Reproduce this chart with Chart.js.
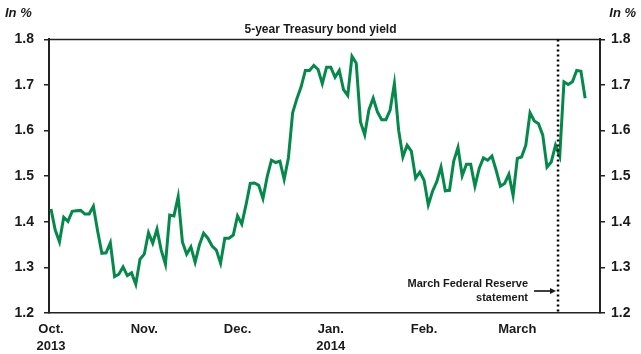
<!DOCTYPE html>
<html>
<head>
<meta charset="utf-8">
<title>5-year Treasury bond yield</title>
<script src="https://cdn.jsdelivr.net/npm/chart.js@4.4.1/dist/chart.umd.min.js"></script>
<style>
    html, body { margin: 0; padding: 0; background: #fff; }
    #chartWrap { width: 641px; height: 354px; }
</style>
</head>
<body>
<div id="chartWrap"><canvas id="yieldChart" width="641" height="354"></canvas></div>
<script>
// Daily 5-year Treasury yield, Oct 2013 - Mar 2014 (in %), one value per business day
const yields = [
    1.428, 1.382, 1.356, 1.410, 1.401, 1.423, 1.424, 1.425, 1.417, 1.417,
    1.434, 1.380, 1.331, 1.332, 1.354, 1.280, 1.285, 1.301, 1.282, 1.288,
    1.263, 1.318, 1.329, 1.376, 1.353, 1.384, 1.338, 1.307, 1.415, 1.413,
    1.455, 1.356, 1.329, 1.345,
    1.311, 1.349, 1.375, 1.364, 1.347, 1.338, 1.309, 1.364, 1.364, 1.371,
    1.413, 1.395, 1.437, 1.484, 1.485, 1.480, 1.451, 1.499, 1.535, 1.530,
    1.533, 1.493, 1.540, 1.639, 1.670, 1.696, 1.732, 1.732, 1.743, 1.734,
    1.703, 1.739, 1.739,
    1.717, 1.732, 1.690, 1.677, 1.763, 1.748, 1.619, 1.591, 1.646, 1.671,
    1.641, 1.624, 1.624, 1.645, 1.703, 1.601, 1.542, 1.568, 1.555, 1.496,
    1.509, 1.491, 1.437, 1.467, 1.488, 1.520, 1.468, 1.469, 1.533, 1.563,
    1.501, 1.526, 1.526,
    1.478, 1.517, 1.540, 1.535, 1.544, 1.513, 1.478, 1.484, 1.504, 1.458,
    1.539, 1.542, 1.568, 1.639, 1.621, 1.615, 1.590, 1.520, 1.531, 1.568,
    1.544, 1.707, 1.701, 1.707, 1.732, 1.730, 1.671
];

// First business day of each month (index into yields) and its label
const monthStarts = [0, 22, 44, 66, 88, 110];
const monthLabels = [['Oct.', '2013'], ['Nov.'], ['Dec.'], ['Jan.', '2014'], ['Feb.'], ['March']];

// Y axis range / ticks (in %)
const yMin = 1.2;
const yMax = 1.8;
const yStep = 0.1;

// March FOMC statement (between business days)
const fedStatementIndex = 119.6;
const fedStatementText = ['March Federal Reserve', 'statement'];

const FONT = "'Liberation Sans', Arial, Helvetica, sans-serif";
const TEXT = '#1a1a1a';
const LINE_GREEN = '#05894b';

// Extra drawing: top frame, "In %" units, dotted event line + note
const framePlugin = {
    id: 'frame',
    afterDraw(chart) {
        const { ctx, chartArea: area, scales } = chart;
        ctx.save();

        // top edge of the frame
        ctx.strokeStyle = '#222';
        ctx.lineWidth = 1.5;
        ctx.beginPath();
        ctx.moveTo(area.left, area.top);
        ctx.lineTo(area.right, area.top);
        ctx.stroke();

        // units
        ctx.fillStyle = TEXT;
        ctx.font = 'italic bold 13px ' + FONT;
        ctx.textBaseline = 'middle';
        ctx.textAlign = 'left';
        ctx.fillText('In %', 5, 13);
        ctx.textAlign = 'right';
        ctx.fillText('In %', 636, 13);

        // dotted line for the Fed statement
        const ex = scales.x.getPixelForValue(fedStatementIndex);
        ctx.strokeStyle = '#000';
        ctx.lineWidth = 2.5;
        ctx.setLineDash([2, 3]);
        ctx.beginPath();
        ctx.moveTo(ex, area.top);
        ctx.lineTo(ex, area.bottom);
        ctx.stroke();
        ctx.setLineDash([]);

        // note + arrow
        ctx.font = 'bold 11px ' + FONT;
        ctx.textAlign = 'right';
        ctx.fillText(fedStatementText[0], ex - 30, 284);
        ctx.fillText(fedStatementText[1], ex - 30, 298);

        const ay = 291;
        ctx.lineWidth = 1.5;
        ctx.beginPath();
        ctx.moveTo(ex - 24, ay);
        ctx.lineTo(ex - 5, ay);
        ctx.stroke();
        ctx.beginPath();
        ctx.moveTo(ex - 2, ay);
        ctx.lineTo(ex - 8, ay - 3);
        ctx.lineTo(ex - 8, ay + 3);
        ctx.closePath();
        ctx.fill();

        ctx.restore();
    }
};

function yAxis(position, width, pad) {
    return {
        type: 'linear',
        position: position,
        min: yMin,
        max: yMax,
        ticks: {
            stepSize: yStep,
            padding: pad,
            color: TEXT,
            font: { family: FONT, size: 14, weight: 'bold' },
            callback: function(value) {
                return value.toFixed(1);
            }
        },
        grid: {
            drawOnChartArea: false,
            drawTicks: true,
            tickLength: 5,
            color: '#222',
            lineWidth: 1.5
        },
        border: { display: true, color: '#222', width: 2 },
        afterFit: function(scale) {
            scale.width = width;
        }
    };
}

document.addEventListener('DOMContentLoaded', function() {
    const ctx = document.getElementById('yieldChart');

    new Chart(ctx, {
        type: 'line',
        data: {
            datasets: [{
                label: '5-year Treasury bond yield',
                data: yields.map((v, i) => ({ x: i, y: v })),
                borderColor: LINE_GREEN,
                borderWidth: 3,
                pointRadius: 0,
                tension: 0,
                fill: false,
                yAxisID: 'y'
            }]
        },
        options: {
            responsive: false,
            animation: false,
            events: [],
            layout: {
                padding: { top: 20, right: 0, bottom: 0, left: 0 }
            },
            plugins: {
                legend: { display: false },
                tooltip: { enabled: false },
                title: {
                    display: true,
                    text: '5-year Treasury bond yield',
                    color: TEXT,
                    font: { family: FONT, size: 12, weight: 'bold', lineHeight: 1.2 },
                    padding: { top: 2, bottom: 3 }
                }
            },
            scales: {
                x: {
                    type: 'linear',
                    min: -0.47,
                    max: 129.5,
                    afterBuildTicks: function(scale) {
                        scale.ticks = monthStarts.map(v => ({ value: v }));
                    },
                    ticks: {
                        autoSkip: false,
                        maxRotation: 0,
                        padding: 8,
                        color: TEXT,
                        font: { family: FONT, size: 13, weight: 'bold', lineHeight: 1.3 },
                        callback: function(value, index) {
                            return monthLabels[index];
                        }
                    },
                    grid: { display: false, drawTicks: false },
                    border: { display: true, color: '#222', width: 1.5 },
                    afterFit: function(scale) {
                        scale.height = 41;
                    }
                },
                y: yAxis('left', 49, 10),
                y2: yAxis('right', 41, 6)
            }
        },
        plugins: [framePlugin]
    });
});
</script>
</body>
</html>
